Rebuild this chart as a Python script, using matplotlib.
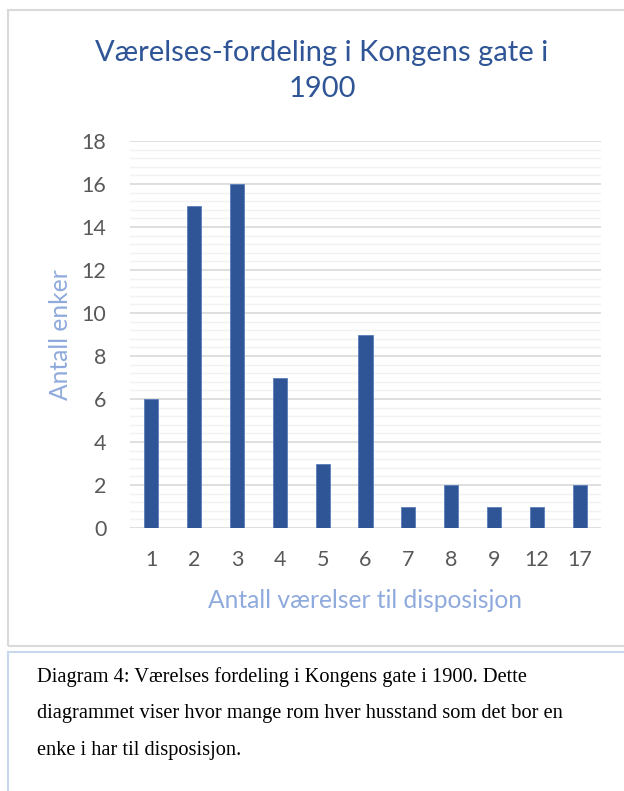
import matplotlib
matplotlib.use("Agg")
import matplotlib.pyplot as plt
from matplotlib.patches import Rectangle
from matplotlib.ticker import MultipleLocator

# data
rooms = ["1", "2", "3", "4", "5", "6", "7", "8", "9", "12", "17"]
widows = [6, 15, 16, 7, 3, 9, 1, 2, 1, 1, 2]

title = "Værelses-fordeling i Kongens gate i\n1900"
xlabel = "Antall værelser til disposisjon"
ylabel = "Antall enker"
caption_lines = [
    "Diagram 4: Værelses fordeling i Kongens gate i 1900. Dette",
    "diagrammet viser hvor mange rom hver husstand som det bor en",
    "enke i har til disposisjon.",
]

W, H = 624, 791
fig = plt.figure(figsize=(W / 100, H / 100), dpi=100)
plt.rcParams['font.family'] = ['Lato', 'DejaVu Sans']


def fx(px):
    return px / W


def fy(py):
    return 1 - py / H


# chart frame and caption box
fig.patches.append(Rectangle((fx(8), fy(646)), fx(640), fy(10) - fy(646),
                             transform=fig.transFigure, fill=False,
                             edgecolor="#D9D9D9", linewidth=1.5))
fig.patches.append(Rectangle((fx(8), fy(800)), fx(640), fy(652) - fy(800),
                             transform=fig.transFigure, fill=False,
                             edgecolor="#C9D7EC", linewidth=1.5))

ax = fig.add_axes([fx(130), fy(528), fx(601) - fx(130), fy(141) - fy(528)])
x = range(len(rooms))
ax.bar(x, widows, width=0.33, color="#2F5597", edgecolor="#5A7DBA",
       linewidth=0.6, zorder=3)
ax.set_xlim(-0.5, len(rooms) - 0.5)
ax.set_ylim(0, 18)
ax.yaxis.set_major_locator(MultipleLocator(2))
ax.yaxis.set_minor_locator(MultipleLocator(0.4))
ax.grid(which="major", axis="y", color="#D9D9D9", linewidth=1.2, zorder=0)
ax.grid(which="minor", axis="y", color="#F2F2F2", linewidth=1.0, zorder=0)
ax.set_xticks(list(x))
ax.set_xticklabels(rooms)
for s in ax.spines.values():
    s.set_visible(False)
ax.tick_params(axis="both", which="both", length=0, labelsize=15.5,
               labelcolor="#595959")
ax.tick_params(axis="x", pad=16)
ax.tick_params(axis="y", pad=17)

fig.text(fx(322), fy(71), title, ha="center", va="center", fontsize=21,
         color="#2F5597", linespacing=1.5)
fig.text(fx(365), fy(600), xlabel, ha="center", va="center", fontsize=17.7,
         color="#8FAADC")
fig.text(fx(60), fy(335), ylabel, ha="center", va="center", fontsize=17.7,
         color="#8FAADC", rotation=90)

for i, line in enumerate(caption_lines):
    fig.text(fx(37), fy(677 + 36.5 * i), line, ha="left", va="center",
             fontsize=14.7, family="Liberation Serif", color="black")

fig.savefig("out.png", dpi=100)
